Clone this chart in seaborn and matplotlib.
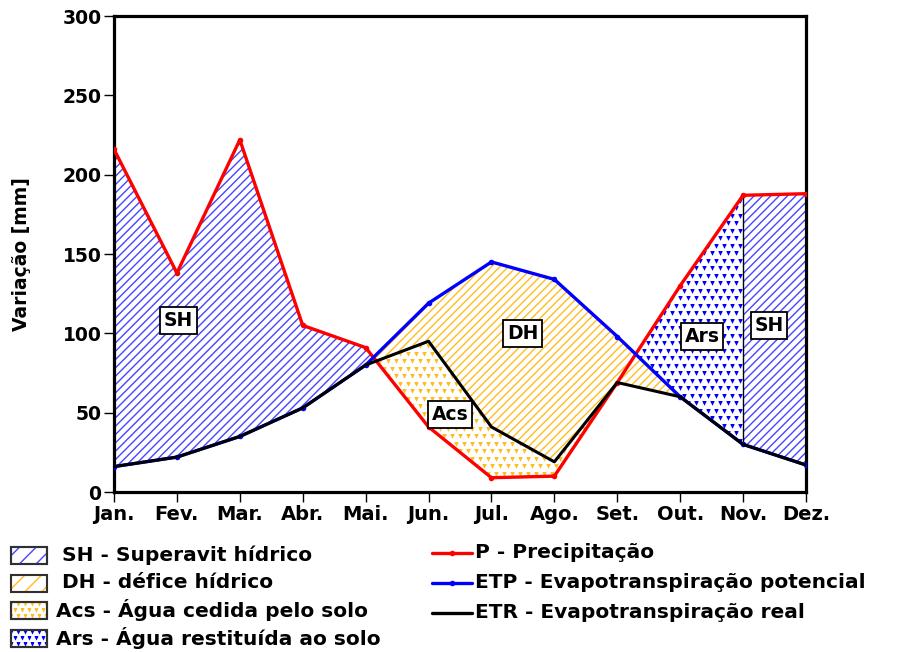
import numpy as np
import pandas as pd
import matplotlib
matplotlib.use("Agg")
import matplotlib.pyplot as plt
import seaborn as sns
from matplotlib.patches import Rectangle
from matplotlib.lines import Line2D

# Balanço hídrico mensal (mm)
meses = ["Jan.", "Fev.", "Mar.", "Abr.", "Mai.", "Jun.", "Jul.", "Ago.",
         "Set.", "Out.", "Nov.", "Dez."]
precipitacao = [216, 138, 222, 105, 91, 41, 9, 10, 69, 130, 187, 188]
etp_potencial = [16, 22, 35, 53, 80, 119, 145, 134, 98, 60, 30, 17]
etr_real = [16, 22, 35, 53, 80, 95, 41, 19, 69, 60, 30, 17]
yticks = [0, 50, 100, 150, 200, 250, 300]

rotulos_area = ["SH", "DH", "Acs", "Ars", "SH"]
legenda_areas = ["SH - Superavit hídrico", "DH - défice hídrico",
                 "Acs - Água cedida pelo solo", "Ars - Água restituída ao solo"]
legenda_linhas = ["P - Precipitação", "ETP - Evapotranspiração potencial",
                  "ETR - Evapotranspiração real"]

VERMELHO = "#ff0000"
AZUL = "#0000ff"
AZUL_HACH = "#4646ff"
LARANJA = "#ffbe1e"

sns.set_theme(style="white")
plt.rcParams["font.family"] = ["DejaVu Sans"]
plt.rcParams["font.weight"] = "bold"
plt.rcParams["hatch.linewidth"] = 1.0

W, H = 910, 652
fig = plt.figure(figsize=(W / 100, H / 100), dpi=100)
fig.patch.set_facecolor("white")
ax = fig.add_axes([114 / W, 1 - 492 / H, (806 - 114) / W, (492 - 16) / H])
ax.set_facecolor("white")

df = pd.DataFrame({"mes": np.arange(len(meses)), "P": precipitacao,
                   "ETP": etp_potencial, "ETR": etr_real})
x = df["mes"].to_numpy(float)
P = df["P"].to_numpy(float)
ETP = df["ETP"].to_numpy(float)
ETR = df["ETR"].to_numpy(float)

ax.set_xlim(0, len(meses) - 1)
ax.set_ylim(yticks[0], yticks[-1])


def triangulos(eixo, caminho, transf, cor, passo_px=(8.0, 7.5), tam=11):
    """Preenche uma região com pequenos triângulos, recortados pelo caminho."""
    bb = caminho.get_extents(transf)
    sx, sy = passo_px
    ys = np.arange(bb.y0 + sy / 2, bb.y1, sy)
    pts = []
    for i, yy in enumerate(ys):
        off = (sx / 2) if i % 2 else 0.0
        xs = np.arange(bb.x0 + off, bb.x1, sx)
        pts.extend((xx, yy) for xx in xs)
    if not pts:
        return
    pts = np.array(pts)
    inv = eixo.transData.inverted()
    dados = inv.transform(pts)
    sc = eixo.scatter(dados[:, 0], dados[:, 1], marker="v", s=tam, c=cor,
                      linewidths=0, zorder=3)
    sc.set_clip_path(caminho, transf)


HACH = "////"

# SH - superavit (Jan-Mai e Nov-Dez)
ax.fill_between(x, ETR, P, where=(P >= ETR) & (x <= 4), interpolate=True,
                facecolor="white", edgecolor=AZUL_HACH, hatch=HACH, lw=0, zorder=1)
ax.fill_between(x[10:], ETR[10:], P[10:], facecolor="white",
                edgecolor=AZUL_HACH, hatch=HACH, lw=0, zorder=1)

# DH - défice
ax.fill_between(x, ETR, ETP, where=(ETP >= ETR) & (x >= 4) & (x <= 9),
                facecolor="white", edgecolor=LARANJA, hatch=HACH, lw=0, zorder=1)

# Acs - água cedida pelo solo
acs = ax.fill_between(x, P, ETR, where=(ETR > P), interpolate=True,
                      facecolor="white", edgecolor="none", lw=0, zorder=2)
triangulos(ax, acs.get_paths()[0], ax.transData, LARANJA)

# Ars - água restituída ao solo
ars = ax.fill_between(x, ETP, P, where=(P > ETP) & (x >= 8) & (x <= 10),
                      interpolate=True, facecolor="white", edgecolor="none",
                      lw=0, zorder=2)
triangulos(ax, ars.get_paths()[0], ax.transData, AZUL)

# Limite entre Ars e SH em Novembro
ax.vlines(x[10], ETR[10], P[10], color="black", lw=1.0, zorder=4)

# Curvas
sns.lineplot(data=df, x="mes", y="P", color=VERMELHO, lw=2.4, marker="o",
             markersize=4, markeredgewidth=0, ax=ax, zorder=5)
sns.lineplot(data=df, x="mes", y="ETP", color=AZUL, lw=2.4, marker="o",
             markersize=4, markeredgewidth=0, ax=ax, zorder=6)
sns.lineplot(data=df, x="mes", y="ETR", color="black", lw=2.2, ax=ax, zorder=7)

# Rótulos das áreas
pos_rotulos = [(1.02, 108), (6.5, 100), (5.34, 49), (9.35, 98), (10.41, 105)]
for txt, (tx, ty) in zip(rotulos_area, pos_rotulos):
    ax.text(tx, ty, txt, ha="center", va="center", fontsize=13.5,
            fontweight="bold", color="black", zorder=10,
            bbox=dict(boxstyle="square,pad=0.2", facecolor="white",
                      edgecolor="black", lw=1.3))

# Eixos
ax.set_xticks(x)
ax.set_xticklabels(meses, fontsize=14, fontweight="bold")
ax.set_yticks(yticks)
ax.set_yticklabels([str(v) for v in yticks], fontsize=13.5, fontweight="bold")
ax.tick_params(axis="both", which="both", direction="out", length=7,
               width=1.0, color="black", bottom=True, left=True, pad=2,
               labelcolor="black")
ax.set_xlabel("")
ax.set_ylabel("Variação [mm]", fontsize=13.5, fontweight="bold", color="black")
ax.yaxis.set_label_coords((31 - 114) / (806 - 114), 0.5)
for sp in ax.spines.values():
    sp.set_visible(True)
    sp.set_color("black")
    sp.set_linewidth(2.3)
ax.grid(False)

# Legenda
lg = fig.add_axes([0, 0, 1, 125 / H])
lg.set_xlim(0, W)
lg.set_ylim(H, H - 125)
lg.axis("off")

linhas_esq = [555, 583, 610, 638]
for i, (txt, yc) in enumerate(zip(legenda_areas, linhas_esq)):
    ret = Rectangle((11, yc - 8.5), 36, 17, facecolor="white",
                    edgecolor="#303030", lw=1.5, zorder=2)
    if i == 0:
        ret.set_hatch("//"); ret.set_edgecolor(AZUL_HACH)
    elif i == 1:
        ret.set_hatch("//"); ret.set_edgecolor(LARANJA)
    lg.add_patch(ret)
    borda = Rectangle((11, yc - 8.5), 36, 17, facecolor="none",
                      edgecolor="#303030", lw=1.5, zorder=4)
    lg.add_patch(borda)
    if i >= 2:
        triangulos(lg, ret.get_path(), ret.get_transform(),
                   LARANJA if i == 2 else AZUL, passo_px=(7.0, 6.0), tam=9)
    tx = 62 if i < 2 else 56
    lg.text(tx, yc, txt, ha="left", va="center", fontsize=14.5,
            fontweight="bold", color="black")

linhas_dir = [553, 583, 613]
cores_dir = [VERMELHO, AZUL, "black"]
for txt, yc, cor in zip(legenda_linhas, linhas_dir, cores_dir):
    lg.add_line(Line2D([432, 472], [yc, yc], color=cor, lw=2.4))
    if cor != "black":
        lg.add_line(Line2D([452], [yc], color=cor, marker="o", markersize=4,
                           markeredgewidth=0))
    lg.text(475, yc, txt, ha="left", va="center", fontsize=14.5,
            fontweight="bold", color="black")

fig.savefig("out.png", dpi=100, facecolor="white")
